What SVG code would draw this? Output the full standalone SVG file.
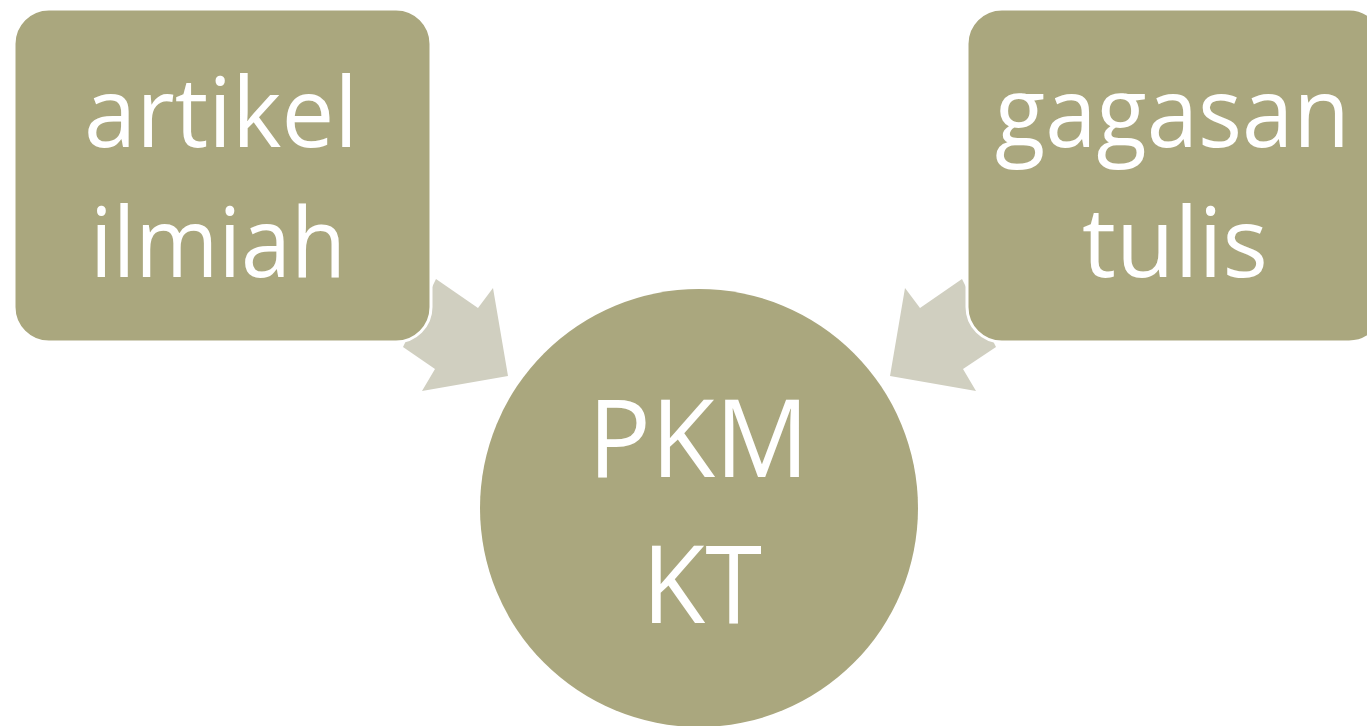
<svg xmlns="http://www.w3.org/2000/svg" width="1367" height="726" viewBox="0 0 1367 726">
  <style>
    .box { fill: #AAA77E; stroke: #FFFFFF; stroke-width: 3; }
    .hub { fill: #AAA77E; }
    .arrow { fill: #D0CFC0; }
    .lbl { font-family: "Open Sans", "Noto Sans", "Liberation Sans", sans-serif; fill: #FFFFFF; }
    .small { font-size: 97px; }
    .big { font-size: 108px; }
  </style>
  <rect x="0" y="0" width="1367" height="726" fill="#FFFFFF"/>
  <g id="connectors">
    <polygon class="arrow" points="436,279 478,308 493,288 508,376 422,391 435,369 403,347"/>
    <polygon class="arrow" points="962,279 920,308 905,288 890,376 976,391 963,369 996,347"/>
  </g>
  <g id="node-artikel">
    <rect class="box" x="14" y="9" width="417" height="333" rx="35" ry="35"/>
    <text class="lbl small" x="84" y="147" textLength="274" lengthAdjust="spacingAndGlyphs">artikel</text>
    <text class="lbl small" x="90" y="277" textLength="256" lengthAdjust="spacingAndGlyphs">ilmiah</text>
  </g>
  <g id="node-gagasan">
    <rect class="box" x="967" y="9" width="417" height="333" rx="35" ry="35"/>
    <text class="lbl small" x="995" y="147" textLength="355" lengthAdjust="spacingAndGlyphs">gagasan</text>
    <text class="lbl small" x="1082" y="277" textLength="186" lengthAdjust="spacingAndGlyphs">tulis</text>
  </g>
  <g id="node-pkm">
    <circle class="hub" cx="699" cy="508" r="219"/>
    <text class="lbl big" x="588" y="477" textLength="221" lengthAdjust="spacingAndGlyphs">PKM</text>
    <text class="lbl big" x="642" y="623" textLength="120" lengthAdjust="spacingAndGlyphs">KT</text>
  </g>
</svg>
